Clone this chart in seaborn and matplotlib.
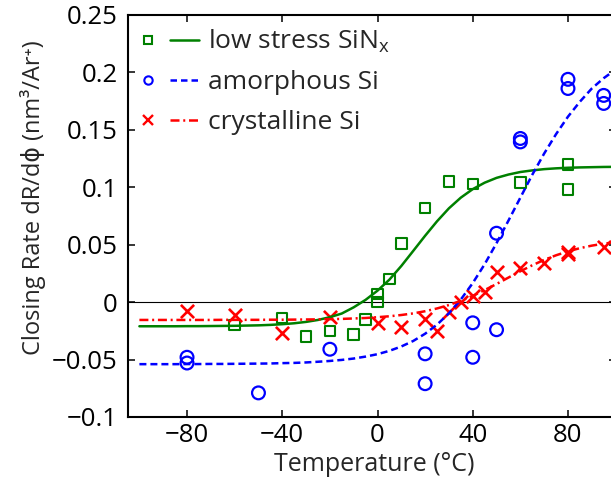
import matplotlib
matplotlib.use('Agg')
import matplotlib.pyplot as plt
import seaborn as sns
from matplotlib.lines import Line2D
from matplotlib.legend_handler import HandlerTuple

# measured points (temperature in C, closing rate in nm^3/Ar+)
sin_temp = [-60, -40, -30, -20, -10, -5, 0, 0, 5, 10, 20, 30, 40, 60, 80, 80]
sin_rate = [-0.020, -0.014, -0.030, -0.025, -0.028, -0.015, 0.007, 0.000,
            0.020, 0.051, 0.082, 0.105, 0.103, 0.104, 0.120, 0.098]

asi_temp = [-80, -80, -50, -20, 20, 20, 40, 40, 50, 50, 60, 60, 80, 80, 95, 95]
asi_rate = [-0.048, -0.053, -0.079, -0.041, -0.045, -0.071, -0.018, -0.048,
            -0.024, 0.060, 0.1425, 0.1395, 0.194, 0.186, 0.180, 0.173]

csi_temp = [-80, -60, -40, -20, 0, 10, 20, 25, 30, 35, 40, 45, 50, 60, 70, 80, 80, 95]
csi_rate = [-0.008, -0.011, -0.027, -0.013, -0.018, -0.0215, -0.015, -0.025,
            -0.009, 0.000, 0.005, 0.009, 0.026, 0.030, 0.034, 0.042, 0.044, 0.048]

# fitted curves, every 5 C
fit_temp = [-100, -95, -90, -85, -80, -75, -70, -65, -60, -55, -50, -45, -40,
            -35, -30, -25, -20, -15, -10, -5, 0, 5, 10, 15, 20, 25, 30, 35,
            40, 45, 50, 55, 60, 65, 70, 75, 80, 85, 90, 95, 100]
sin_fit = [-0.0210, -0.0210, -0.0210, -0.0210, -0.0209, -0.0209, -0.0208,
           -0.0207, -0.0206, -0.0204, -0.0202, -0.0198, -0.0192, -0.0184,
           -0.0172, -0.0155, -0.0131, -0.0099, -0.0045, 0.0020, 0.0100,
           0.0196, 0.0315, 0.0446, 0.0578, 0.0704, 0.0817, 0.0910, 0.0984,
           0.1040, 0.1082, 0.1111, 0.1133, 0.1147, 0.1158, 0.1165, 0.1170,
           0.1173, 0.1175, 0.1177, 0.1178]
asi_fit = [-0.0540, -0.0540, -0.0540, -0.0540, -0.0539, -0.0539, -0.0538,
           -0.0538, -0.0537, -0.0536, -0.0535, -0.0534, -0.0531, -0.0529,
           -0.0525, -0.0519, -0.0512, -0.0503, -0.0491, -0.0474, -0.0453,
           -0.0424, -0.0386, -0.0338, -0.0275, -0.0196, -0.0097, 0.0023,
           0.0166, 0.0330, 0.0514, 0.0710, 0.0910, 0.1109, 0.1294, 0.1463,
           0.1615, 0.1745, 0.1860, 0.1950, 0.2025]
csi_fit = [-0.0155, -0.0155, -0.0155, -0.0155, -0.0155, -0.0155, -0.0155,
           -0.0154, -0.0154, -0.0154, -0.0154, -0.0153, -0.0153, -0.0152,
           -0.0151, -0.0150, -0.0148, -0.0146, -0.0142, -0.0138, -0.0131,
           -0.0123, -0.0112, -0.0098, -0.0079, -0.0055, -0.0025, 0.0012,
           0.0055, 0.0105, 0.0158, 0.0214, 0.0269, 0.0321, 0.0368, 0.0408,
           0.0442, 0.0470, 0.0492, 0.0509, 0.0522]

labels = ['low stress SiN$_\\mathrm{x}$', 'amorphous Si', 'crystalline Si']
xticks = [-80, -40, 0, 40, 80]
xtick_labels = ['\u221280', '\u221240', '0', '40', '80']
yticks = [-0.1, -0.05, 0, 0.05, 0.1, 0.15, 0.2, 0.25]
ytick_labels = ['\u22120.1', '\u22120.05', '0', '0.05', '0.1', '0.15', '0.2', '0.25']

GREEN = '#008000'
BLUE = '#0000ff'
RED = '#ff0000'
FS_TICK = 18.5
FS_LEG = 19

sns.set_style('ticks')
plt.rcParams['font.family'] = ['Open Sans', 'DejaVu Sans']
plt.rcParams['mathtext.fontset'] = 'custom'
plt.rcParams['mathtext.rm'] = 'Open Sans'
plt.rcParams['font.size'] = FS_LEG

fig = plt.figure(figsize=(6.11, 4.82), dpi=100)
ax = fig.add_axes([127.5 / 611, 65 / 482, 488.1 / 611, 402 / 482])

ax.axhline(0, color='black', lw=0.8, zorder=1)

# data points
sns.scatterplot(x=sin_temp, y=sin_rate, marker='s', s=7.5 ** 2, facecolor='none',
                edgecolor=GREEN, linewidth=1.5, ax=ax, zorder=3)
sns.scatterplot(x=asi_temp, y=asi_rate, marker='o', s=9.2 ** 2, facecolor='none',
                edgecolor=BLUE, linewidth=1.6, ax=ax, zorder=3)
sns.scatterplot(x=csi_temp, y=csi_rate, marker='x', s=9.5 ** 2, color=RED,
                linewidth=1.9, ax=ax, zorder=3)

# fits
sns.lineplot(x=fit_temp, y=sin_fit, color=GREEN, lw=1.8, ax=ax, zorder=4)
sns.lineplot(x=fit_temp, y=asi_fit, color=BLUE, lw=1.8, ax=ax, zorder=4)
sns.lineplot(x=fit_temp, y=csi_fit, color=RED, lw=1.8, ax=ax, zorder=4)
lines = ax.get_lines()
lines[-2].set_dashes((2.8, 1.6))
lines[-1].set_dashes((3.6, 1.5, 0.8, 1.5))

ax.set_xlim(-105, 100)
ax.set_ylim(-0.1, 0.25)
ax.set_xticks(xticks)
ax.set_xticklabels(xtick_labels)
ax.set_yticks(yticks)
ax.set_yticklabels(ytick_labels)
ax.tick_params(direction='in', length=5, width=1.1, top=True, right=True,
               labelsize=FS_TICK, colors='black')
ax.tick_params(axis='x', pad=4)
ax.tick_params(axis='y', pad=7)
for sp in ax.spines.values():
    sp.set_linewidth(1.5)
    sp.set_color('black')

ax.set_xlabel('Temperature (\u00b0C)', fontsize=18)
ax.set_ylabel('Closing Rate dR/d\u03d5 (nm\u00b3/Ar\u207a)', fontsize=17)
ax.xaxis.set_label_coords(0.506, -0.1343)
ax.yaxis.set_label_coords(-0.194, 0.545)
ax.xaxis.label.set_va('baseline')
ax.yaxis.label.set_va('center')

# legend: marker, then a short line segment
h_mk = [Line2D([], [], ls='none', marker='s', ms=5.5, mfc='none', mec=GREEN, mew=1.5),
        Line2D([], [], ls='none', marker='o', ms=6, mfc='none', mec=BLUE, mew=1.5),
        Line2D([], [], ls='none', marker='x', ms=6.5, mec=RED, mew=1.7)]
h_ln = [Line2D([], [], color=GREEN, lw=1.8),
        Line2D([], [], color=BLUE, lw=1.8, dashes=(2.6, 1.6)),
        Line2D([], [], color=RED, lw=1.8, dashes=(3.6, 1.5, 0.8, 1.5))]
ax.legend(list(zip(h_mk, h_ln)), labels, loc='upper left',
          bbox_to_anchor=(0.012, 0.968), borderaxespad=0, borderpad=0,
          frameon=False, fontsize=FS_LEG, numpoints=1, handlelength=2.48,
          handletextpad=0.34, labelspacing=0.56,
          handler_map={tuple: HandlerTuple(ndivide=None, pad=0.28)})

fig.savefig('out.png', dpi=100)
